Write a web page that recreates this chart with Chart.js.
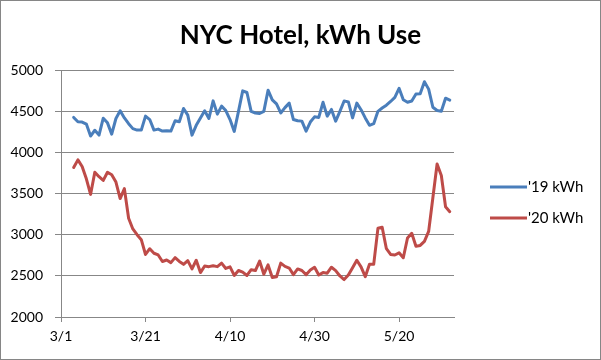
<!DOCTYPE html>
<html>
<head>
<meta charset="utf-8">
<script src="https://cdn.jsdelivr.net/npm/chart.js@4"></script>
<style>
  body { margin: 0; background: #fff; }
  #wrap { width: 601px; height: 360px; border: 1px solid #868686; box-sizing: border-box; }
  canvas { display: block; }
</style>
</head>
<body>
<div id="wrap"><canvas id="kwhChart" width="599" height="358"></canvas></div>
<script>
// Axis labels: days counted from 3/1
const tickDays = [0, 20, 40, 60, 80];
const tickLabels = ['3/1', '3/21', '4/10', '4/30', '5/20'];
const firstDay = 3;   // first reading sits 3 days after 3/1
const lastDay = 93;   // right edge of the axis

// Daily kWh
const kwh2019 = [
    4426, 4373, 4370, 4345, 4200, 4270, 4211, 4417, 4360, 4223,
    4413, 4506, 4420, 4350, 4290, 4272, 4272, 4442, 4400, 4272,
    4284, 4260, 4264, 4260, 4385, 4373, 4535, 4454, 4211, 4330,
    4420, 4506, 4413, 4627, 4466, 4563, 4510, 4400, 4256, 4500,
    4749, 4729, 4500, 4480, 4474, 4500, 4757, 4640, 4590, 4480,
    4545, 4600, 4400, 4385, 4381, 4260, 4370, 4433, 4426, 4610,
    4442, 4523, 4380, 4500, 4625, 4615, 4420, 4600, 4520, 4420,
    4330, 4350, 4500, 4540, 4575, 4620, 4670, 4780, 4640, 4610,
    4625, 4710, 4715, 4860, 4770, 4550, 4510, 4502, 4660, 4636
];
const kwh2020 = [
    3818, 3910, 3830, 3680, 3490, 3760, 3705, 3660, 3760, 3730,
    3640, 3440, 3560, 3200, 3070, 3000, 2940, 2760, 2830, 2775,
    2754, 2675, 2693, 2661, 2722, 2675, 2640, 2685, 2585, 2690,
    2540, 2620, 2612, 2624, 2612, 2655, 2590, 2610, 2505, 2565,
    2545, 2505, 2575, 2565, 2680, 2520, 2633, 2480, 2490, 2655,
    2615, 2595, 2515, 2584, 2565, 2515, 2572, 2605, 2511, 2540,
    2532, 2605, 2564, 2499, 2455, 2510, 2600, 2690, 2610, 2490,
    2640, 2640, 3078, 3090, 2830, 2760, 2754, 2780, 2720, 2960,
    3017, 2860, 2870, 2920, 3040, 3450, 3860, 3720, 3340, 3280
];
const seriesLabels = ["'19 kWh", "'20 kWh"];
const seriesColors = ['#4A7EBB', '#BE4B48'];

const FONT = 'Lato, "Open Sans", sans-serif';
const GRID = '#878787';

function toPoints(values) {
    return values.map((v, i) => ({ x: firstDay + i, y: v }));
}

// Right-hand legend as its own layout box, so the title stays centred on the whole canvas
const sideLegend = {
    id: 'sideLegend',
    beforeInit(chart) {
        const box = {
            position: 'right',
            weight: 1000,
            fullSize: false,
            options: {},
            isHorizontal: () => false,
            update(maxWidth, maxHeight) { this.width = 146; this.height = maxHeight; },
            _layers() { return [{ z: 0, draw: () => drawLegend(chart) }]; },
            draw() { drawLegend(chart); }
        };
        Chart.layouts.addBox(chart, box);
    }
};

function drawLegend(chart) {
    const ctx = chart.ctx;
    const x0 = chart.chartArea.right + 36;
    ctx.save();
    ctx.font = '15px ' + FONT;
    ctx.textBaseline = 'middle';
    ctx.textAlign = 'left';
    chart.data.datasets.forEach((ds, i) => {
        const y = 186 + i * 31;
        ctx.strokeStyle = ds.borderColor;
        ctx.lineWidth = 3;
        ctx.beginPath();
        ctx.moveTo(x0, y);
        ctx.lineTo(x0 + 37, y);
        ctx.stroke();
        ctx.fillStyle = '#000';
        ctx.fillText(ds.label, x0 + 38, y);
    });
    ctx.restore();
}

const ctx = document.getElementById('kwhChart').getContext('2d');
const kwhChart = new Chart(ctx, {
    type: 'line',
    data: {
        datasets: [kwh2019, kwh2020].map((vals, i) => ({
            label: seriesLabels[i],
            data: toPoints(vals),
            borderColor: seriesColors[i],
            backgroundColor: seriesColors[i],
            borderWidth: 3,
            borderJoinStyle: 'round',
            borderCapStyle: 'round',
            pointRadius: 0,
            tension: 0
        }))
    },
    options: {
        responsive: false,
        animation: false,
        layout: { padding: 0 },
        plugins: {
            legend: { display: false },
            tooltip: { enabled: false },
            title: {
                display: true,
                text: 'NYC Hotel, kWh Use',
                color: '#000',
                font: { family: FONT, size: 26, weight: 'bold' },
                padding: { top: 19, bottom: 19 }
            }
        },
        scales: {
            x: {
                type: 'linear',
                min: 0,
                max: lastDay,
                afterBuildTicks: (scale) => { scale.ticks = tickDays.map(v => ({ value: v })); },
                afterFit: (scale) => { scale.height = 42; },
                ticks: {
                    autoSkip: false,
                    maxRotation: 0,
                    padding: 6,
                    color: '#000',
                    font: { family: FONT, size: 14 },
                    callback: (v) => tickLabels[tickDays.indexOf(v)]
                },
                grid: { drawOnChartArea: false, drawTicks: true, tickLength: 5, color: GRID },
                border: { color: GRID }
            },
            y: {
                min: 2000,
                max: 5000,
                afterFit: (scale) => { scale.width = 60; },
                ticks: {
                    stepSize: 500,
                    padding: 12,
                    color: '#000',
                    font: { family: FONT, size: 14 },
                    callback: (v) => String(v)
                },
                grid: { color: GRID, tickLength: 6 },
                border: { color: GRID }
            }
        }
    },
    plugins: [sideLegend]
});
</script>
</body>
</html>
